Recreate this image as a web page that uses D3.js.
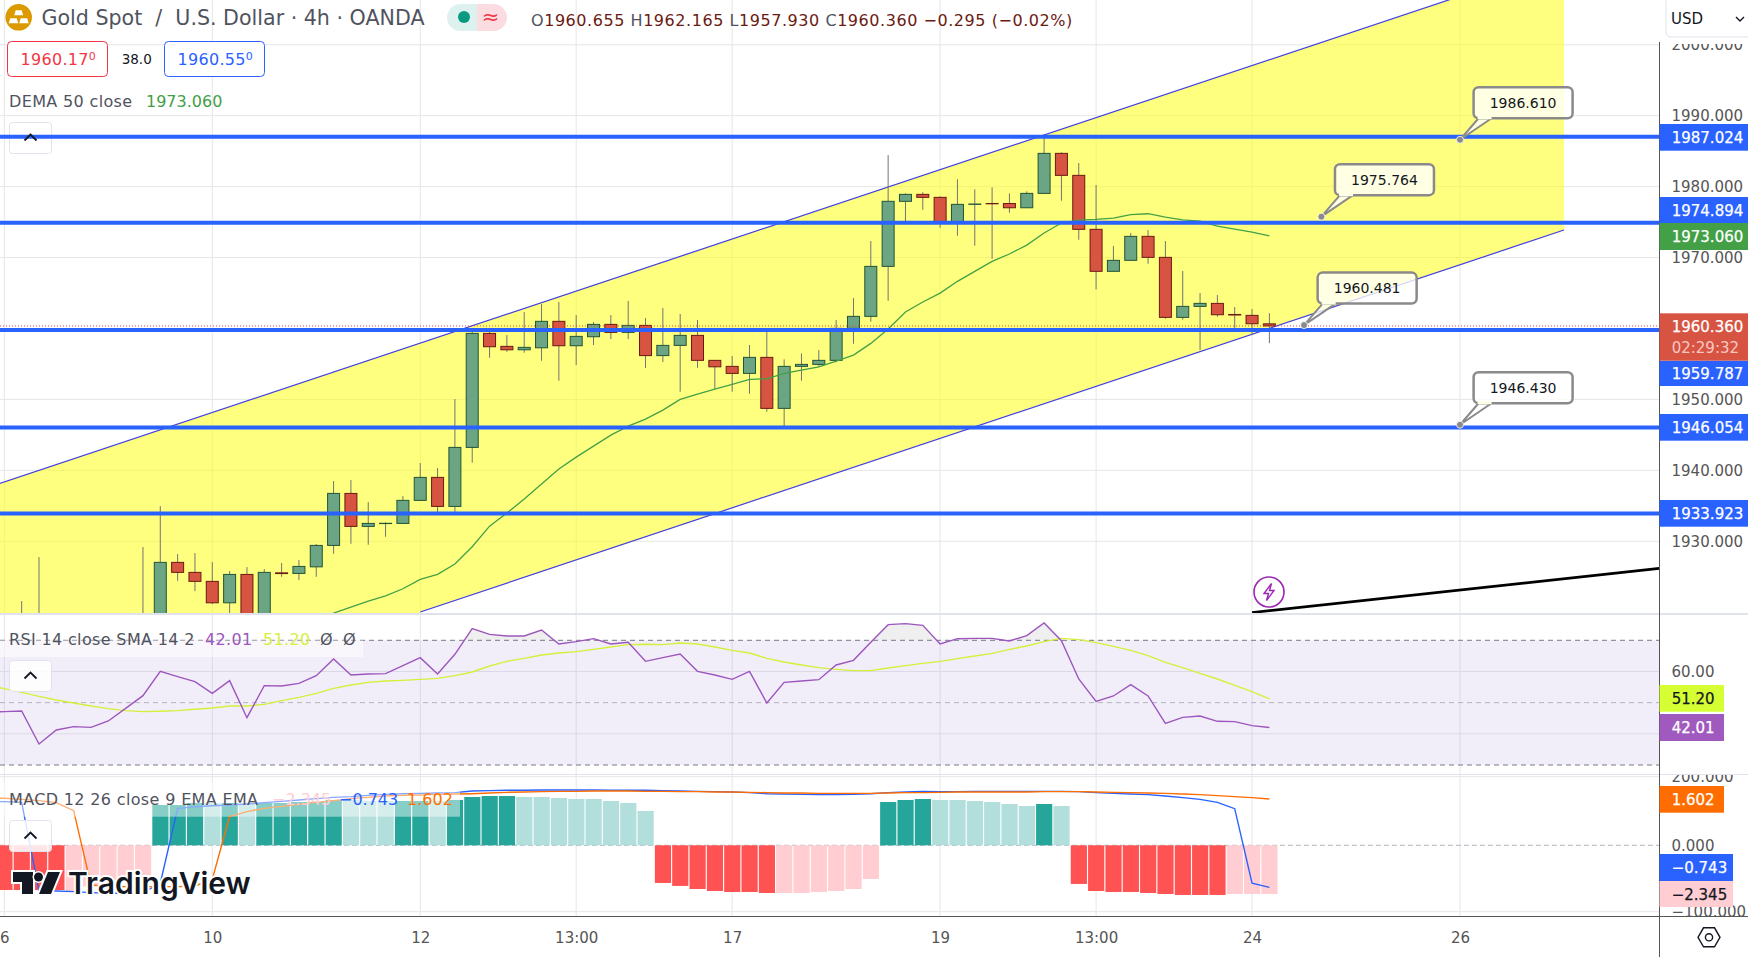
<!DOCTYPE html>
<html>
<head>
<meta charset="utf-8">
<script src="https://cdn.jsdelivr.net/npm/d3@7"></script>
<style>
  html, body { margin: 0; padding: 0; background: #fff; }
  svg { display: block; }
  text { font-family: "DejaVu Sans", sans-serif; }
</style>
</head>
<body>
<div id="chart"></div>
<script>
// bars are counted from the "6" tick, one bar = 4h, null = below the pane in the picture
const candleOpen = [null,1914,1914,null,null,null,null,null,1914,1915,1927.03,1925.62,1924.35,1921.33,1925.33,1917,1925.55,1925.47,1926.40,1929.42,1936.75,1932.10,1932.50,1932.52,1935.77,1939.01,1934.92,1943.24,1959.31,1957.48,1957.00,1957.28,1961.01,1957.57,1958.84,1960.58,1959.45,1960.44,1956.18,1957.62,1959.03,1955.51,1954.66,1953.67,1955.93,1948.74,1954.66,1954.94,1955.51,1960.02,1961.71,1968.76,1977.93,1978.91,1978.49,1974.83,1977.50,1977.62,1977.62,1977.02,1979.05,1984.69,1981.59,1973.98,1968.06,1969.61,1972.99,1970.03,1961.57,1963.12,1963.54,1961.98,1961.85,1960.655];
const candleHigh = [null,1921.57,1927.77,null,null,null,null,null,1929.18,1934.96,1928.20,1928.34,1927.07,1925.80,1926.36,1926.08,1926.93,1927.35,1929.61,1938.49,1938.63,1935.53,1932.66,1936.37,1941.03,1940.32,1950.05,1959.64,1959.78,1959.07,1962.32,1963.45,1963.73,1961.89,1960.91,1961.89,1963.87,1961.47,1962.88,1962.04,1961.19,1955.51,1956.11,1957.67,1959.92,1955.65,1956.49,1956.96,1961.19,1964.29,1972.33,1984.45,1979.05,1979.20,1978.63,1981.03,1979.62,1979.90,1979.05,1979.34,1987.42,1984.83,1983.33,1980.23,1971.62,1973.46,1973.88,1972.33,1968.10,1965.0,1964.71,1963.02,1962.74,1962.165];
const candleLow = [null,1912,1912,null,null,null,null,null,1912,1912,1924.43,1922.98,1921.15,1918,1915,1915,1924.99,1924.53,1924.99,1928.24,1929.65,1929.51,1930.64,1932.52,1935.77,1933.93,1933.93,1941.07,1955.87,1956.72,1956.58,1955.45,1952.63,1954.84,1957.67,1958.51,1958.51,1954.42,1955.27,1951.08,1954.46,1951.46,1951.08,1950.80,1948.26,1945.96,1952.63,1954.66,1955.23,1957.85,1960.95,1963.91,1975.15,1976.74,1974.20,1973.08,1971.67,1969.83,1976.32,1977.02,1979.05,1978.01,1972.51,1965.52,1968.06,1969.61,1969.13,1961.37,1961.23,1956.96,1961.66,1960.0,1959.07,1957.93];
const candleClose = [null,1916,1916,null,null,null,null,null,1916,1927.03,1925.62,1924.35,1921.33,1925.33,1917,1925.62,1925.45,1926.46,1929.42,1936.75,1932.10,1932.52,1932.54,1935.77,1939.01,1934.92,1943.24,1959.31,1957.43,1957.00,1957.34,1961.01,1957.57,1958.89,1960.58,1959.45,1960.44,1956.18,1957.62,1959.03,1955.51,1954.60,1953.67,1955.93,1948.74,1954.66,1954.94,1955.51,1960.02,1961.71,1968.76,1977.93,1978.91,1978.49,1974.83,1977.50,1977.55,1977.58,1977.02,1979.05,1984.69,1981.59,1973.98,1968.06,1969.61,1972.99,1970.03,1961.57,1963.12,1963.54,1961.94,1961.90,1960.67,1960.36];

const demaStart = 18;
const demaValues = [1919.17,1919.88,1920.72,1921.57,1922.32,1923.31,1924.63,1925.33,1926.79,1929.23,1932.14,1933.98,1935.95,1938.07,1940.18,1941.87,1943.42,1944.97,1946.24,1947.23,1948.50,1950.01,1950.76,1951.46,1952.12,1952.83,1952.91,1953.67,1954.14,1954.60,1955.41,1956.25,1957.90,1959.92,1962.32,1963.73,1964.99,1966.65,1968.06,1969.47,1970.50,1971.76,1973.46,1974.87,1975.29,1975.39,1975.57,1976.04,1976.18,1975.71,1975.32,1975.15,1974.44,1974.02,1973.60,1973.06];

// indicator lines start one bar left of the "6" tick, so they leave the picture's edge
const lineStart = -1;
const rsiValues = [47.0,47.11,47.32,36.74,41.23,42.30,42.08,44.12,48.18,52.24,60.05,58.34,56.73,52.99,57.05,45.18,55.45,55.34,56.20,58.66,64.00,58.87,59.19,59.30,61.86,64.43,59.19,65.50,73.73,71.91,71.38,71.38,73.30,68.81,69.56,70.52,68.81,69.35,63.25,64.43,65.61,60.05,58.87,57.48,60.05,49.89,56.52,56.95,57.37,62.08,63.58,69.35,75.02,75.34,74.80,68.81,70.52,70.63,70.63,69.78,71.49,75.55,69.88,57.59,50.42,52.14,55.77,52.14,43.37,45.29,45.72,44.01,43.90,42.62,42.01];
const rsiSmaValues = [55.7,54.49,53.31,52.03,50.85,49.89,48.93,48.07,47.43,47.11,47.22,47.43,47.86,48.29,48.93,48.93,49.46,50.64,51.71,52.99,54.59,55.66,56.52,56.95,57.16,57.48,57.80,58.66,59.83,61.76,63.25,64.22,65.29,65.93,66.37,67.10,67.85,68.60,68.71,68.60,69.13,68.81,67.85,66.78,65.93,64.22,63.04,62.08,61.22,60.69,60.26,60.26,61.12,61.86,62.61,63.25,64.11,64.97,65.82,67.10,68.17,69.56,70.63,70.20,69.24,68.07,66.78,65.07,62.93,61.22,59.41,57.59,55.56,53.52,51.20];

// MACD pane uses the picture's own axis units (its scale is not even around zero)
const macdHist = [-67.3,-67.3,-67.3,-67.3,-68.8,-62.2,-57.2,-53.2,-49.7,117.5,117.5,123.3,123.3,123.3,120.4,123.3,123.3,126.2,126.2,132.1,132.1,129.2,129.2,129.2,129.2,129.2,132.1,140.8,143.7,143.7,140.8,140.8,137.9,135,135,129.2,123.3,100,-56.7,-61.2,-65.8,-68.8,-70.3,-70.3,-71.8,-71.8,-71.8,-70.3,-68.8,-65.8,-50.7,126.2,132.1,135,132.1,132.1,129.2,126.2,120.4,114.6,120.4,114.6,-58.2,-68.8,-70.3,-70.3,-71.8,-73.3,-74.8,-74.8,-74.8,-73.3,-73.3,-73.3];
const macdHistPale = [4,5,6,7,8,12,14,20,21,22,25,30,31,32,33,34,35,36,37,45,46,47,48,49,50,54,55,56,57,58,59,61,71,72,73];
const macdLine = [127.5,127.2,125.3,-68.8,-68.8,-69.8,-71.3,-72.3,-72.3,-71.3,-57.2,106.8,112.6,115.5,117.5,120.4,124.3,128.2,132.1,136,139.8,141.8,145.7,148.6,150.5,151.5,152.5,153.5,158.3,159.3,160.3,160.3,161.2,161.2,161.2,161.2,160.3,160.3,160.3,159.3,158.3,157.3,156.4,155.4,153.5,150.5,149.6,148.6,147.6,147.6,148.6,150.5,153.5,155.4,157.3,156.4,156.4,157.3,157.3,157.3,157.3,157.3,157.3,156.4,153.5,151.5,149.6,147.6,143.7,138.9,134,125.3,106.8,-57.2,-63.3];
const macdSignal = [138,137,134,130.1,124.3,101,-59.7,-62.2,-62.2,-62.2,-62.2,-62.2,-61.2,-51.2,83.5,98.1,107.8,113.6,119.4,125.3,130.1,136,139.8,143.7,145.7,146.7,148.6,149.6,150.5,152.5,154.4,155.4,156.4,157.3,157.3,158.3,158.3,158.3,157.3,157.3,156.4,156.4,155.4,155.4,154.4,153.5,152.5,152.5,151.5,151.5,151.5,151.5,152.5,153.5,153.5,154.4,155.4,155.4,155.4,155.4,155.4,156.4,156.4,156.4,155.4,154.4,153.5,152.5,151.5,149.6,147.6,144.7,141.8,138.9,135];

const priceGrid = [2000,1990,1980,1970,1960,1950,1940,1930];
const priceTicks = [2000,1990,1980,1970,1950,1940,1930]; // 1960 sits under the last price tag
const rsiGrid = [60,40];
const rsiTicks = [60]; // 40 sits under the 42.01 tag
const macdTicks = [200,0,-100];
const timeTickBars = [0,12,24,33,42,54,63,72,84];
const timeTickLabels = ["6","10","12","13:00","17","19","13:00","24","26"];

const levelPrices = [1987.024,1974.894,1959.787,1946.054,1933.923];
const channelUpperBars = [-1,90];
const channelUpperPrices = [1937.56,2011.74];
const channelLowerBars = [24,90];
const channelLowerPrices = [1920.03,1973.88];
const trendBars = [72,95.5];
const trendPrices = [1919.95,1926.18];
const calloutBars = [84,76,75,84];
const calloutPrices = [1986.610,1975.764,1960.481,1946.430];
const lastPrice = 1960.36;

const width = 1748, height = 957;
const axisX = 1659.5;
const mainBottom = 613, rsiTop = 615, rsiBottom = 774, macdTop = 775, macdBottom = 916;

const x = d3.scaleLinear().domain([0, 84]).range([4.33, 1460]);
const yPrice = d3.scaleLinear().domain([1990, 1930]).range([115.7, 541.3]);
const yRsi = d3.scaleLinear().domain([30, 70]).range([765, 640.3]);
const yMacd = d3.scaleLinear().domain([-100, 0, 200]).range([911.7, 845.3, 776.7]);

const svg = d3.select("#chart").append("svg").attr("width", width).attr("height", height);
const defs = svg.append("defs");
const addClip = (id, cx, cy, cw, ch) => defs.append("clipPath").attr("id", id)
    .append("rect").attr("x", cx).attr("y", cy).attr("width", cw).attr("height", ch);
addClip("clip-main", 0, 0, axisX, mainBottom);
addClip("clip-rsi", 0, rsiTop, axisX, rsiBottom - rsiTop);
addClip("clip-macd", 0, macdTop, axisX, macdBottom - macdTop);
addClip("clip-over", 0, rsiTop, axisX, yRsi(70) - rsiTop);
addClip("clip-ax-main", axisX, 44, 90, mainBottom - 44);
addClip("clip-ax-macd", axisX, macdTop, 90, macdBottom - macdTop);

const gridColor = "#E6E6EA";

// vertical grid runs through all three panes
svg.append("g").selectAll("line").data(timeTickBars).join("line")
    .attr("x1", d => x(d)).attr("x2", d => x(d)).attr("y1", 0).attr("y2", macdBottom)
    .attr("stroke", gridColor);

svg.append("g").selectAll("line").data(priceGrid).join("line")
    .attr("x1", 0).attr("x2", axisX).attr("y1", d => yPrice(d)).attr("y2", d => yPrice(d))
    .attr("stroke", gridColor);

// ---- main pane
const main = svg.append("g").attr("clip-path", "url(#clip-main)");

main.append("path")
    .attr("d", d3.line()([
        [x(channelUpperBars[0]), yPrice(channelUpperPrices[0])],
        [x(channelUpperBars[1]), yPrice(channelUpperPrices[1])],
        [x(channelLowerBars[1]), yPrice(channelLowerPrices[1])],
        [x(channelLowerBars[0]), yPrice(channelLowerPrices[0])],
        [x(channelLowerBars[0]), mainBottom + 5],
        [x(channelUpperBars[0]), mainBottom + 5]
    ]) + "Z")
    .attr("fill", "rgba(255,255,0,0.5)");

[[channelUpperBars, channelUpperPrices], [channelLowerBars, channelLowerPrices]].forEach(([bars, prices]) => {
    main.append("line")
        .attr("x1", x(bars[0])).attr("x2", x(bars[1]))
        .attr("y1", yPrice(prices[0])).attr("y2", yPrice(prices[1]))
        .attr("stroke", "#3F3FE0").attr("stroke-width", 1.2);
});

const bars = d3.range(candleOpen.length).filter(i => candleOpen[i] !== null);
main.append("g").selectAll("line").data(bars).join("line")
    .attr("x1", d => x(d)).attr("x2", d => x(d))
    .attr("y1", d => yPrice(candleHigh[d])).attr("y2", d => yPrice(candleLow[d]))
    .attr("stroke", "#737375");
main.append("g").selectAll("rect").data(bars).join("rect")
    .attr("x", d => x(d) - 6).attr("width", 12)
    .attr("y", d => yPrice(Math.max(candleOpen[d], candleClose[d])))
    .attr("height", d => Math.abs(yPrice(candleOpen[d]) - yPrice(candleClose[d])))
    .attr("fill", d => candleClose[d] >= candleOpen[d] ? "#6BA583" : "#D75442")
    .attr("stroke", d => candleClose[d] >= candleOpen[d] ? "#225437" : "#6B1A12");

main.append("path")
    .attr("d", d3.line().x((d, i) => x(demaStart + i)).y(d => yPrice(d))(demaValues))
    .attr("fill", "none").attr("stroke", "#43A047").attr("stroke-width", 1.3);

main.append("line")
    .attr("x1", x(trendBars[0])).attr("x2", x(trendBars[1]))
    .attr("y1", yPrice(trendPrices[0])).attr("y2", yPrice(trendPrices[1]))
    .attr("stroke", "#000").attr("stroke-width", 2.6);

const btnBox = (top) => svg.append("rect").attr("x", 9.5).attr("y", top).attr("width", 42).attr("height", 31).attr("rx", 3)
    .attr("fill", "rgba(255,255,255,0.85)").attr("stroke", "#E0E3EB");
const btnChevron = (top) => svg.append("path").attr("d", `M24.5 ${top + 18}L30.5 ${top + 12}L36.5 ${top + 18}`)
    .attr("fill", "none").attr("stroke", "#131722").attr("stroke-width", 1.8);

// main pane button: box under the level line, chevron over it
btnBox(122.5);

svg.append("g").selectAll("line").data(levelPrices).join("line")
    .attr("x1", 0).attr("x2", axisX).attr("y1", d => yPrice(d)).attr("y2", d => yPrice(d))
    .attr("stroke", "#2962FF").attr("stroke-width", 4);

btnChevron(122.5);

svg.append("line")
    .attr("x1", 0).attr("x2", axisX).attr("y1", yPrice(lastPrice)).attr("y2", yPrice(lastPrice))
    .attr("stroke", "#E2483D").attr("stroke-dasharray", "1 2");

// callouts: pin on the price, box up and to the right
calloutBars.forEach((b, i) => {
    const ax = x(b), ay = yPrice(calloutPrices[i]);
    const bx = ax + 13.6, by = ay - 52.5, bw = 99, bh = 31;
    const g = svg.append("g");
    g.append("path")
        .attr("d", `M${bx + 5} ${by + bh}L${ax} ${ay}L${bx + 18} ${by + bh}`)
        .attr("fill", "rgba(255,255,255,0.78)").attr("stroke", "#8A8A8A").attr("stroke-width", 2);
    g.append("rect").attr("x", bx).attr("y", by).attr("width", bw).attr("height", bh).attr("rx", 5)
        .attr("fill", "rgba(255,255,255,0.78)").attr("stroke", "#8A8A8A").attr("stroke-width", 2.5);
    g.append("rect").attr("x", bx + 4).attr("y", by + bh - 2).attr("width", 14).attr("height", 3)
        .attr("fill", "#FFFFE8");
    g.append("circle").attr("cx", ax).attr("cy", ay).attr("r", 3.5)
        .attr("fill", "#8A8A8A").attr("stroke", "#fff").attr("stroke-width", 0.8);
    g.append("text").attr("x", bx + bw / 2).attr("y", by + bh / 2 + 5)
        .attr("text-anchor", "middle").attr("font-size", 14).attr("fill", "#131722")
        .text(calloutPrices[i].toFixed(3));
});

// lightning mark
const bolt = svg.append("g").attr("transform", "translate(1269,592)");
bolt.append("circle").attr("r", 15).attr("fill", "none").attr("stroke", "#9C27B0").attr("stroke-width", 1.6);
bolt.append("path").attr("d", "M2.5 -8.5L-5 1.5H-0.5L-2.5 8.5L5 -1.5H0.5Z")
    .attr("fill", "none").attr("stroke", "#9C27B0").attr("stroke-width", 1.4);

// ---- RSI pane
const rsi = svg.append("g").attr("clip-path", "url(#clip-rsi)");
rsi.append("rect").attr("x", 0).attr("width", axisX).attr("y", yRsi(70)).attr("height", yRsi(30) - yRsi(70))
    .attr("fill", "rgba(126,87,194,0.1)");
rsi.selectAll("line.tick").data(rsiGrid).join("line")
    .attr("x1", 0).attr("x2", axisX).attr("y1", d => yRsi(d)).attr("y2", d => yRsi(d))
    .attr("stroke", "#DCD8E6");
[[70, "#787B86"], [50, "#B2B5BE"], [30, "#787B86"]].forEach(([v, c]) => {
    rsi.append("line").attr("x1", 0).attr("x2", axisX).attr("y1", yRsi(v)).attr("y2", yRsi(v))
        .attr("stroke", c).attr("stroke-dasharray", "5 4");
});
rsi.append("path").attr("clip-path", "url(#clip-over)")
    .attr("d", d3.area().x((d, i) => x(lineStart + i)).y0(yRsi(70)).y1(d => yRsi(d))(rsiValues))
    .attr("fill", "rgba(120,120,120,0.12)");
rsi.append("path")
    .attr("d", d3.line().x((d, i) => x(lineStart + i)).y(d => yRsi(d))(rsiSmaValues))
    .attr("fill", "none").attr("stroke", "#D5F03A").attr("stroke-width", 1.4);
rsi.append("path")
    .attr("d", d3.line().x((d, i) => x(lineStart + i)).y(d => yRsi(d))(rsiValues))
    .attr("fill", "none").attr("stroke", "#9C56BE").attr("stroke-width", 1.4);

// ---- MACD pane
const macd = svg.append("g").attr("clip-path", "url(#clip-macd)");
macd.selectAll("line.tick").data([200, -100]).join("line")
    .attr("x1", 0).attr("x2", axisX).attr("y1", d => yMacd(d)).attr("y2", d => yMacd(d))
    .attr("stroke", gridColor);
macd.append("line").attr("x1", 0).attr("x2", axisX).attr("y1", yMacd(0)).attr("y2", yMacd(0))
    .attr("stroke", "#B2B5BE").attr("stroke-dasharray", "5 3");
macd.append("g").selectAll("rect").data(macdHist).join("rect")
    .attr("x", (d, i) => x(i) - 8).attr("width", 16.2)
    .attr("y", d => Math.min(yMacd(d), yMacd(0)))
    .attr("height", d => Math.abs(yMacd(d) - yMacd(0)))
    .attr("fill", (d, i) => {
        const pale = macdHistPale.includes(i);
        if (d >= 0) return pale ? "#B2DFDB" : "#26A69A";
        return pale ? "#FFCDD2" : "#FF5252";
    });
macd.append("path")
    .attr("d", d3.line().x((d, i) => x(lineStart + i)).y(d => yMacd(d))(macdLine))
    .attr("fill", "none").attr("stroke", "#2962FF").attr("stroke-width", 1.4);
macd.append("path")
    .attr("d", d3.line().x((d, i) => x(lineStart + i)).y(d => yMacd(d))(macdSignal))
    .attr("fill", "none").attr("stroke", "#FF6D00").attr("stroke-width", 1.4);

// pane separators and axis frame
svg.append("line").attr("x1", 0).attr("x2", width).attr("y1", 614).attr("y2", 614)
    .attr("stroke", "#E0E3EB").attr("stroke-width", 2);
svg.append("line").attr("x1", 0).attr("x2", width).attr("y1", 774.5).attr("y2", 774.5)
    .attr("stroke", "#E0E3EB");
svg.append("line").attr("x1", 0).attr("x2", width).attr("y1", macdBottom + 0.5).attr("y2", macdBottom + 0.5)
    .attr("stroke", "#555");
svg.append("line").attr("x1", axisX).attr("x2", axisX).attr("y1", 42).attr("y2", height)
    .attr("stroke", "#555");

// ---- axes
const styleAxis = (g) => {
    g.select(".domain").remove();
    g.selectAll("text").attr("font-size", 15).attr("fill", "#555");
};
const axisRight = (scale, ticks, fmt) => d3.axisRight(scale).tickValues(ticks).tickFormat(fmt).tickSize(0).tickPadding(12);
svg.append("g").attr("clip-path", "url(#clip-ax-main)").append("g")
    .attr("transform", `translate(${axisX},0)`)
    .call(axisRight(yPrice, priceTicks, d3.format(".3f"))).call(styleAxis);
svg.append("g").attr("transform", `translate(${axisX},0)`)
    .call(axisRight(yRsi, rsiTicks, d3.format(".2f"))).call(styleAxis);
svg.append("g").attr("clip-path", "url(#clip-ax-macd)").append("g")
    .attr("transform", `translate(${axisX},0)`)
    .call(axisRight(yMacd, macdTicks, d3.format(".3f"))).call(styleAxis);
svg.append("g").attr("transform", `translate(0,${macdBottom})`)
    .call(d3.axisBottom(x).tickValues(timeTickBars).tickFormat((d, i) => timeTickLabels[i]).tickSize(0).tickPadding(16))
    .call(styleAxis);

// ---- price labels on the axis, pushed apart the way the picture has them
const axisTags = [
    { text: "1987.024", top: 124, bottom: 150.7, fill: "#2962FF", color: "#fff" },
    { text: "1974.894", top: 197, bottom: 223, fill: "#2962FF", color: "#fff" },
    { text: "1973.060", top: 223, bottom: 250, fill: "#43A047", color: "#fff" },
    { text: "1959.787", top: 360.7, bottom: 386, fill: "#2962FF", color: "#fff" },
    { text: "1946.054", top: 414, bottom: 440.7, fill: "#2962FF", color: "#fff" },
    { text: "1933.923", top: 500, bottom: 526.7, fill: "#2962FF", color: "#fff" },
    { text: "51.20", top: 685, bottom: 711.7, fill: "#D5FF33", color: "#131722", right: 1724 },
    { text: "42.01", top: 714, bottom: 741, fill: "#A05ABF", color: "#fff", right: 1724 },
    { text: "1.602", top: 786, bottom: 812.7, fill: "#FF6D00", color: "#fff", right: 1724 },
    { text: "\u22120.743", top: 854, bottom: 881, fill: "#2962FF", color: "#fff", right: 1733 },
    { text: "\u22122.345", top: 881, bottom: 907, fill: "#FFCDD2", color: "#131722", right: 1733 }
];
const tags = svg.append("g");
axisTags.forEach(t => {
    tags.append("rect").attr("x", axisX).attr("y", t.top).attr("width", (t.right || width) - axisX)
        .attr("height", t.bottom - t.top).attr("fill", t.fill);
    tags.append("text").attr("x", 1671.7).attr("y", (t.top + t.bottom) / 2 + 5.5)
        .attr("font-size", 15).attr("fill", t.color).attr("stroke", t.color).attr("stroke-width", 0.25)
        .text(t.text);
});
tags.append("rect").attr("x", axisX).attr("y", 313.3).attr("width", width - axisX).attr("height", 47.4).attr("fill", "#D75442");
tags.append("text").attr("x", 1671.7).attr("y", 332).attr("font-size", 15).attr("fill", "#fff")
    .attr("stroke", "#fff").attr("stroke-width", 0.25).text("1960.360");
tags.append("text").attr("x", 1671.7).attr("y", 353).attr("font-size", 15).attr("fill", "#F8C9C3").text("02:29:32");

// ---- header texts
const label = (px, py, txt, color, size, anchor) => svg.append("text").attr("x", px).attr("y", py)
    .attr("font-size", size).attr("fill", color).attr("text-anchor", anchor || "start").text(txt);
const legendSpacing = 0.35;

const gold = svg.append("g").attr("transform", "translate(18.7,17.3)");
gold.append("circle").attr("r", 13.3).attr("fill", "#DB9B00");
gold.selectAll("path").data(["M-4.5 -2L-3 -7H3L4.5 -2Z", "M-10 6L-8.5 1H-2L-0.5 6Z", "M0.5 6L2 1H8.5L10 6Z"]).join("path")
    .attr("d", d => d).attr("fill", "#fff");

label(41.5, 25, "Gold Spot  /  U.S. Dollar \u00B7 4h \u00B7 OANDA", "#50535E", 20.6).style("white-space", "pre");

svg.append("path").attr("d", "M460.5 4H477V31H460.5A13.5 13.5 0 0 1 460.5 4Z").attr("fill", "#DDF1EE");
svg.append("path").attr("d", "M477 4H493.5A13.5 13.5 0 0 1 493.5 31H477Z").attr("fill", "#FBDCE1");
svg.append("circle").attr("cx", 464).attr("cy", 17).attr("r", 6).attr("fill", "#089981");
label(490.5, 24, "\u2248", "#F23645", 21, "middle");

const ohlc = [["O", "1960.655"], ["H", "1962.165"], ["L", "1957.930"], ["C", "1960.360"]];
const ohlcText = svg.append("text").attr("x", 531).attr("y", 25.5).attr("font-size", 16)
    .style("letter-spacing", "0.55px");
ohlc.forEach(([k, v]) => {
    ohlcText.append("tspan").attr("fill", "#50535E").text(k);
    ohlcText.append("tspan").attr("fill", "#6B1A12").text(v + " ");
});
ohlcText.append("tspan").attr("fill", "#6B1A12").text("\u22120.295 (\u22120.02%)");

const priceBox = (bx, color, main, minor) => {
    svg.append("rect").attr("x", bx).attr("y", 41.5).attr("width", 100).attr("height", 35).attr("rx", 4)
        .attr("fill", "#fff").attr("stroke", color);
    const t = svg.append("text").attr("x", bx + 13).attr("y", 65).attr("font-size", 16).attr("fill", color)
        .style("letter-spacing", "0.3px");
    t.append("tspan").text(main);
    t.append("tspan").attr("font-size", 11).attr("dy", -5).text(minor);
};
priceBox(7.5, "#F23645", "1960.17", "0");
priceBox(164.5, "#2962FF", "1960.55", "0");
label(136.7, 64, "38.0", "#131722", 13.5, "middle");

label(9, 107, "DEMA 50 close", "#50535E", 16).style("letter-spacing", legendSpacing + "px");
label(146, 107, "1973.060", "#43A047", 16);

// ---- RSI legend
svg.append("rect").attr("x", 0).attr("y", 640.5).attr("width", 363).attr("height", 16.5).attr("fill", "rgba(255,255,255,0.55)");
label(9, 645, "RSI 14 close SMA 14 2", "#50535E", 16).style("letter-spacing", legendSpacing + "px");
label(205, 645, "42.01", "#9C56BE", 16).style("letter-spacing", legendSpacing + "px");
label(263, 645, "51.20", "#D5F03A", 16).style("letter-spacing", legendSpacing + "px");
label(320, 645, "\u00D8", "#50535E", 16);
label(343, 645, "\u00D8", "#50535E", 16);
btnBox(660.5);
btnChevron(660.5);

// ---- MACD legend
svg.append("rect").attr("x", 0).attr("y", 783).attr("width", 460).attr("height", 33.7).attr("fill", "rgba(255,255,255,0.45)");
label(9, 805, "MACD 12 26 close 9 EMA EMA", "#50535E", 16).style("letter-spacing", legendSpacing + "px");
label(272, 805, "\u22122.345", "#FFCDD2", 16);
label(339, 805, "\u22120.743", "#2962FF", 16);
label(407, 805, "1.602", "#FF6D00", 16);
btnBox(820.5);
btnChevron(820.5);

// ---- logo
const logo = svg.append("g");
const markPaths = ["M13 872H33V894H22V882H13Z", "M60 872H48L39 894H51Z"];
logo.selectAll("path").data(markPaths).join("path").attr("d", d => d).attr("fill", "#131722")
    .attr("stroke", "#fff").attr("stroke-width", 4).attr("paint-order", "stroke");
logo.append("circle").attr("cx", 38.5).attr("cy", 877).attr("r", 4.5).attr("fill", "#131722")
    .attr("stroke", "#fff").attr("stroke-width", 3).attr("paint-order", "stroke");
logo.append("text").attr("x", 68).attr("y", 894).attr("font-size", 30)
    .style("font-family", "Inter, Roboto, sans-serif").attr("font-weight", 600).attr("fill", "#131722")
    .attr("stroke", "#fff").attr("stroke-width", 4).attr("paint-order", "stroke")
    .text("TradingView");

// ---- corner widgets
svg.append("rect").attr("x", 1666).attr("y", -4).attr("width", 90).attr("height", 41).attr("rx", 5)
    .attr("fill", "#fff").attr("stroke", "#E0E3EB");
label(1671, 24, "USD", "#131722", 15);
svg.append("path").attr("d", "M1736 17L1740 21L1744 17").attr("fill", "none").attr("stroke", "#131722").attr("stroke-width", 1.4);

const gear = svg.append("g").attr("transform", "translate(1709,937.3)");
gear.append("path").attr("d", "M-11 0L-5.5 -9.5H5.5L11 0L5.5 9.5H-5.5Z").attr("fill", "none").attr("stroke", "#131722").attr("stroke-width", 1.4);
gear.append("circle").attr("r", 3.6).attr("fill", "none").attr("stroke", "#131722").attr("stroke-width", 1.4);
</script>
</body>
</html>
